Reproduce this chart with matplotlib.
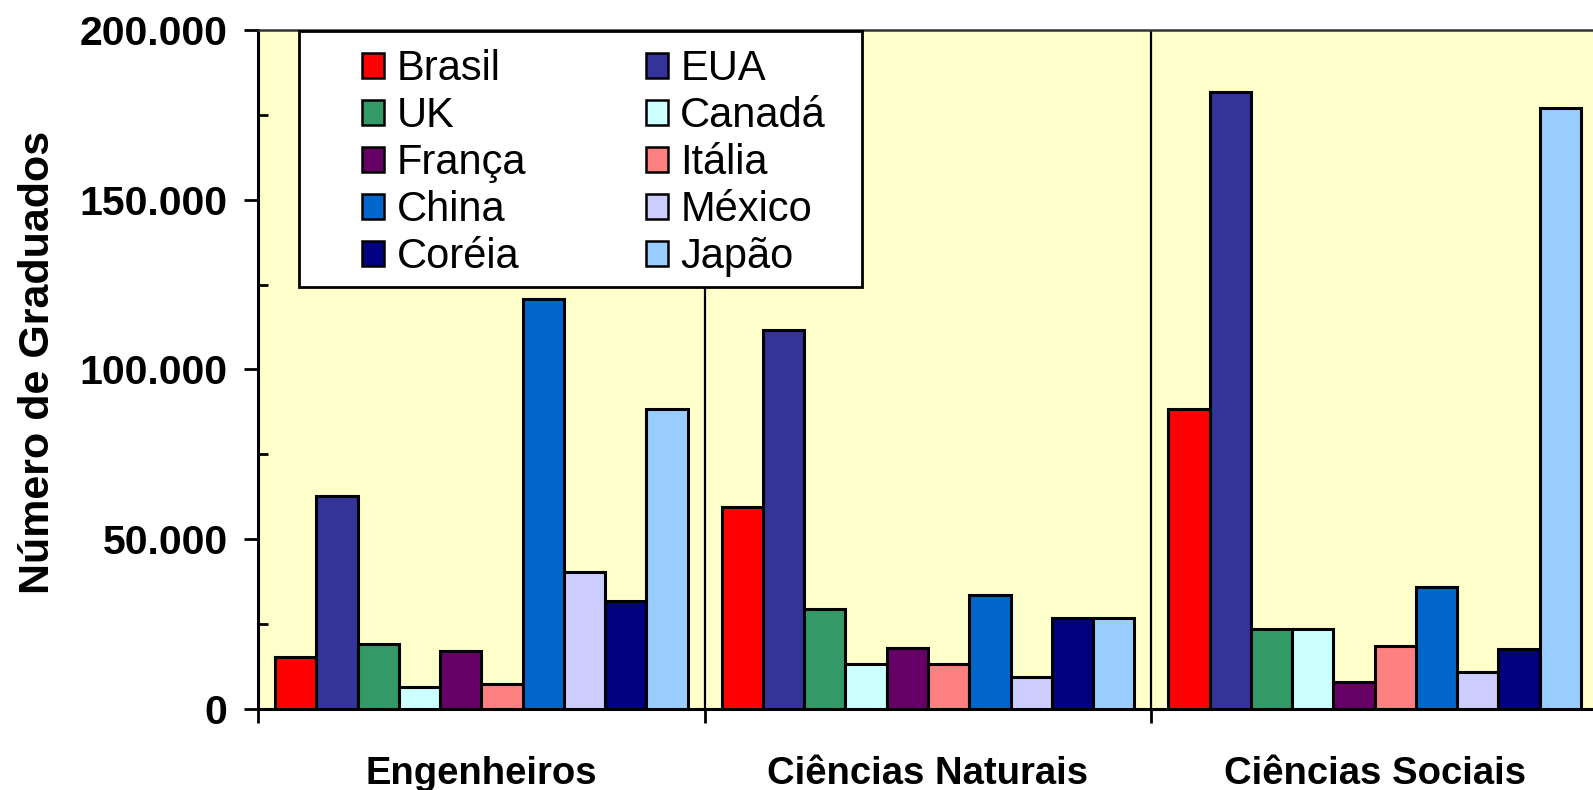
import numpy as np
import matplotlib.pyplot as plt
from matplotlib.patches import Rectangle
from matplotlib.ticker import FixedLocator, FixedFormatter

plt.rcParams['font.family'] = ['Liberation Sans', 'DejaVu Sans']

# dados
areas = ["Engenheiros", "Ciências Naturais", "Ciências Sociais"]
paises = ["Brasil", "EUA", "UK", "Canadá", "França",
          "Itália", "China", "México", "Coréia", "Japão"]
engenheiros = [15300, 62600, 19000, 6400, 17100, 7400, 120700, 40300, 31700, 88400]
naturais = [59600, 111700, 29500, 13200, 18000, 13400, 33700, 9400, 26700, 26700]
sociais = [88500, 181800, 23500, 23500, 7900, 18600, 35900, 11000, 17700, 176900]
y_ticks = [0, 50000, 100000, 150000, 200000]
y_labels = ["0", "50.000", "100.000", "150.000", "200.000"]

cores = ["#FF0000", "#333399", "#339966", "#CCFFFF", "#660066",
         "#FF8080", "#0066CC", "#CCCCFF", "#000080", "#99CCFF"]

W, H = 1593, 790
fig = plt.figure(figsize=(W/100, H/100), dpi=100)
ax = fig.add_axes([258/W, (H-709)/H, 1340/W, 679/H])
ax.set_facecolor("#FFFFCC")

valores = np.array([engenheiros, naturais, sociais])
margem = 0.038
largura = 0.0924
handles = []
for j, pais in enumerate(paises):
    x = np.arange(len(areas)) + margem + j*largura
    b = ax.bar(x, valores[:, j], width=largura, align='edge', color=cores[j],
               edgecolor='black', linewidth=2.2, label=pais, zorder=3)
    handles.append(b)

# separadores entre as areas
for i in range(1, len(areas)):
    ax.axvline(i, color='black', lw=1.6, zorder=2)

ax.set_xlim(0, len(areas))
ax.set_ylim(0, 200000)

ax.yaxis.set_major_locator(FixedLocator(y_ticks))
ax.yaxis.set_major_formatter(FixedFormatter(y_labels))
ax.yaxis.set_minor_locator(FixedLocator([25000, 75000, 125000, 175000]))
ax.tick_params(axis='y', which='major', direction='out', length=10, width=2,
               labelsize=29.5, pad=12)
ax.tick_params(axis='y', which='minor', direction='in', length=7, width=2)
for t in ax.get_yticklabels():
    t.set_fontweight('bold')

ax.xaxis.set_major_locator(FixedLocator(range(len(areas)+1)))
ax.xaxis.set_major_formatter(FixedFormatter([""]*(len(areas)+1)))
ax.xaxis.set_minor_locator(FixedLocator(np.arange(len(areas)) + 0.5))
ax.xaxis.set_minor_formatter(FixedFormatter(areas))
ax.tick_params(axis='x', which='major', direction='out', length=10, width=2)
ax.tick_params(axis='x', which='minor', length=0, labelsize=27.5, pad=34)
for t in ax.get_xticklabels(minor=True):
    t.set_fontweight('bold')

ax.spines['left'].set_linewidth(2.2)
ax.spines['bottom'].set_linewidth(2.2)
ax.spines['top'].set_linewidth(1.8)
ax.spines['top'].set_color('#333333')
ax.spines['right'].set_visible(False)

ax.set_ylabel("Número de Graduados", fontsize=31, fontweight='bold')
ax.yaxis.set_label_coords(-(258-58)/1340, (709-362)/679)

# legenda em duas colunas, ordem por linha
ordem = [0, 2, 4, 6, 8, 1, 3, 5, 7, 9]
leg_box = Rectangle((299/W, 1-287/H), (862-299)/W, (287-31)/H,
                    transform=fig.transFigure, facecolor='white',
                    edgecolor='black', linewidth=2, zorder=5)
fig.add_artist(leg_box)
leg = fig.legend([handles[k] for k in ordem], [paises[k] for k in ordem],
                 ncol=2, loc='upper left',
                 bbox_to_anchor=(362/W, 1-49/H), frameon=False,
                 fontsize=30, handlelength=0.53, handleheight=0.53,
                 handletextpad=0.3, columnspacing=2.87, labelspacing=0.17,
                 borderpad=0, borderaxespad=0)
leg.set_zorder(6)
for p in leg.get_patches():
    p.set_linewidth(1.8)

fig.savefig("out.png", dpi=100)
